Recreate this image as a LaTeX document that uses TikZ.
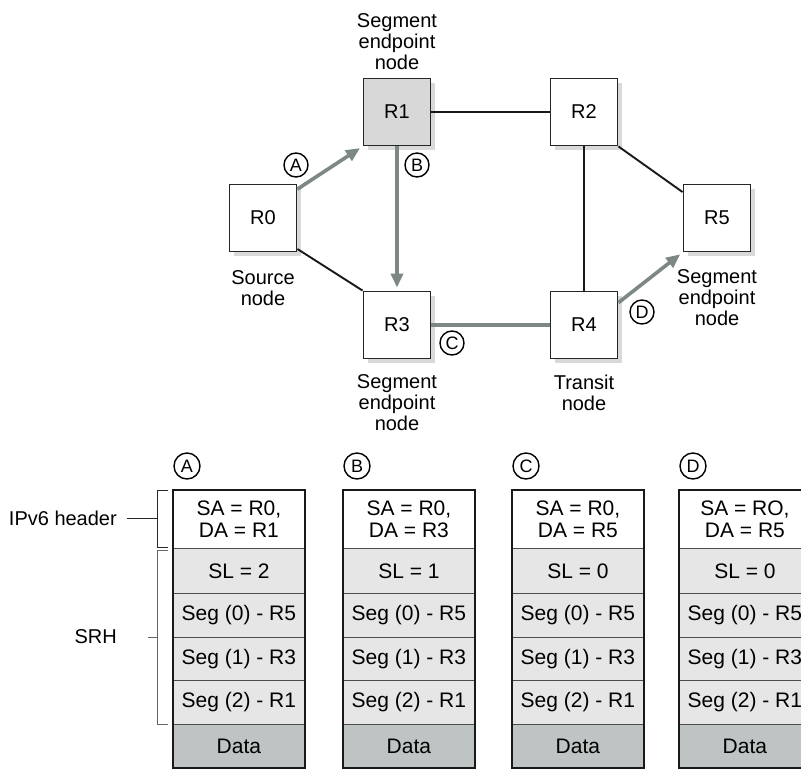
\documentclass[tikz,border=0pt]{standalone}
\usepackage{fontspec}
\setmainfont{Liberation Sans}
\usetikzlibrary{arrows.meta,shadows,calc}
\newcommand\lblfont{\fontsize{20}{21}\selectfont}
\newcommand\cellfont{\fontsize{21}{22}\selectfont}
\newcommand\circfont{\fontsize{18}{18}\selectfont}
\definecolor{pathgray}{RGB}{125,136,134}
\definecolor{rowgray}{RGB}{230,230,230}
\definecolor{datagray}{RGB}{190,195,195}
\definecolor{r1gray}{RGB}{216,216,216}
\tikzset{
  router/.style={draw=black!85, line width=1.9pt, fill=white, minimum width=67pt,
    minimum height=67pt, inner sep=0pt, font=\lblfont,
    drop shadow={shadow xshift=4pt, shadow yshift=-4pt, fill=black!15, opacity=1}},
  lbl/.style={align=center, font=\lblfont, inner sep=0pt},
  circ/.style={circle, draw=black, line width=1.4pt, minimum size=24pt, inner sep=0pt, font=\circfont},
  pcirc/.style={circ, minimum size=26pt},
  link/.style={draw=black!90, line width=1.9pt},
  route/.style={draw=pathgray, line width=3.6pt},
  routearrow/.style={route, -{Triangle[length=14pt,width=12pt]}, shorten >=3pt},
  cell/.style={draw=black!70, line width=0.8pt, minimum width=131pt, inner sep=0pt,
    anchor=north west, font=\cellfont, align=center},
  brk/.style={draw=black!85, line width=1pt},
}
\newcommand\pkt[4]{%
  \node[pcirc] (c#1) at (#2+14,466) {#1};
  \node[cell, fill=white, minimum height=58pt] (#1h) at (#2,490) {#3};
  \node[cell, fill=rowgray, minimum height=45pt] (#1sl) at (#2,548) {#4};
  \node[cell, fill=rowgray, minimum height=44pt] (#1s0) at (#2,593) {Seg (0) - R5};
  \node[cell, fill=rowgray, minimum height=43pt] (#1s1) at (#2,637) {Seg (1) - R3};
  \node[cell, fill=rowgray, minimum height=44pt] (#1s2) at (#2,680) {Seg (2) - R1};
  \node[cell, fill=datagray, minimum height=43pt] (#1d) at (#2,724) {Data};
  \draw[line width=2.4pt, draw=black!90] (#1h.north west) rectangle (#1d.south east);
}
\begin{document}
\begin{tikzpicture}[x=1pt,y=-1pt]
\path[use as bounding box] (0,0) rectangle (801,769);
\fill[white] (0,0) rectangle (801,769);

% routers
\node[router] (R0) at (263,218) {R0};
\node[router, fill=r1gray] (R1) at (397,112) {R1};
\node[router] (R2) at (584,112) {R2};
\node[router] (R3) at (397,325) {R3};
\node[router] (R4) at (584,325) {R4};
\node[router] (R5) at (717,218) {R5};

% labels
\node[lbl] (l1) at (397,42) {Segment\\endpoint\\node};
\node[lbl] (l0) at (263,288) {Source\\node};
\node[lbl] (l3) at (397,403) {Segment\\endpoint\\node};
\node[lbl] (l4) at (584,393) {Transit\\node};
\node[lbl] (l5) at (717,298) {Segment\\endpoint\\node};

% plain links
\draw[link] (R0.-42) -- (R3.north west);
\draw[link] (R1.east) -- (R2.west);
\draw[link] (R2.south) -- (R4.north);
\draw[link] (R2.south east) -- (R5.143);

% route
\draw[routearrow] (R0.40) -- (R1.south west);
\draw[routearrow] (R1.south) -- (R3.north);
\draw[route] (R3.east) -- (R4.west);
\draw[routearrow] (R4.33) -- (R5.south west);

% circled letters on the route
\node[circ] (tA) at (296,165) {A};
\node[circ] (tB) at (417,165) {B};
\node[circ] (tC) at (452,343) {C};
\node[circ] (tD) at (642,312) {D};

% packets
\pkt{A}{173}{SA = R0,\\DA = R1}{SL = 2}
\pkt{B}{343}{SA = R0,\\DA = R3}{SL = 1}
\pkt{C}{512}{SA = R0,\\DA = R5}{SL = 0}
\begin{scope}
\clip (0,0) rectangle (801,769);
\pkt{D}{679}{SA = RO,\\DA = R5}{SL = 0}
\end{scope}

% brackets
\node[lbl, anchor=east] (ipv6) at (117,518) {IPv6 header};
\node[lbl, anchor=east] (srh) at (117,637) {SRH};
\coordinate (b1a) at (168,490);
\coordinate (b1b) at (168,547);
\coordinate (b2a) at (168,550);
\coordinate (b2b) at (168,724);
\draw[brk] (b1a) -- (157,490) -- (157,547) -- (b1b);
\draw[brk] ($(ipv6.east)+(10,0)$) -- (157,518);
\draw[brk, draw=black!60] (b2a) -- (157,550) -- (157,724) -- (b2b);
\draw[brk, draw=black!60] (148,637) -- (157,637);
\end{tikzpicture}
\end{document}
